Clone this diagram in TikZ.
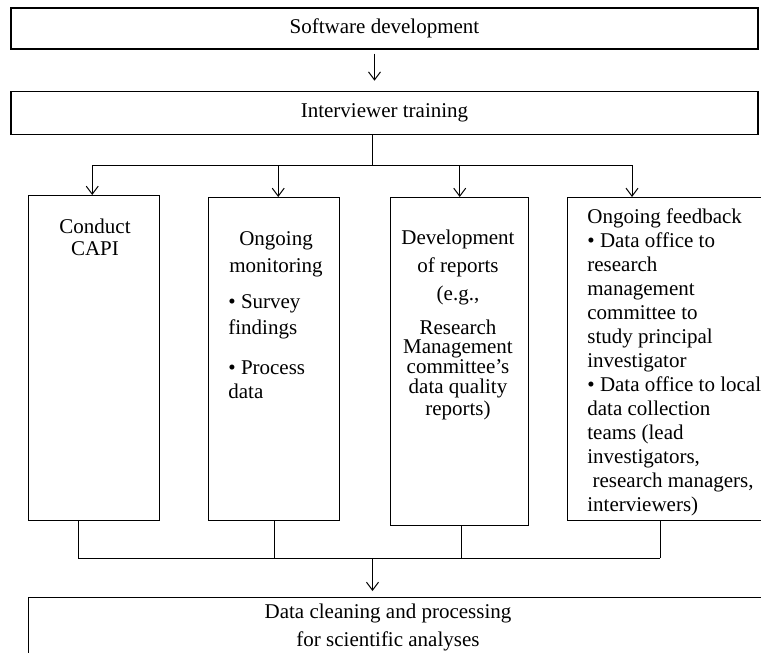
\documentclass[tikz,border=0pt]{standalone}
\usepackage{fontspec}
\setmainfont{Liberation Serif}
\usetikzlibrary{positioning}
\usetikzlibrary{arrows.meta}

\begin{document}
\begin{tikzpicture}[x=0.5pt, y=-0.5pt,
                        every node/.style={font=\fontsize{10.5}{10.5}\selectfont},
                        box/.style={draw, line width=0.7pt, inner sep=0pt},
                        txt/.style={inner sep=0pt, align=center},
                        lft/.style={inner sep=0pt, align=left},
                        link/.style={line width=0.5pt},
                        arr/.style={line width=0.5pt, -{Straight Barb[length=4pt,width=6pt]}}]
            \useasboundingbox (0,0) rectangle (761,653);

            \node[box, minimum width=373.5pt, minimum height=20.5pt] (sw) at (384.5,28.5) {Software development};
            \node[box, minimum width=373.5pt, minimum height=21.5pt, below=20.5pt of sw] (train) {Interviewer training};

            % colunas
            \node[box, anchor=north west, minimum width=65.5pt, minimum height=162.5pt] (capi) at (28,195) {};
            \node[box, anchor=north west, minimum width=65.5pt, minimum height=161.5pt] (mon) at (208,197) {};
            \node[box, anchor=north west, minimum width=69pt, minimum height=164pt] (rep) at (390,197) {};
            \node[box, anchor=north west, minimum width=111.5pt, minimum height=161.5pt] (fb) at (567,197) {};
            \node[box, anchor=north west, minimum width=380pt, minimum height=45pt] (clean) at (28,597) {};

            \node[txt, anchor=north] (capit) at (95,219) {Conduct\\[0.5pt]CAPI};
            \node[txt, anchor=north] (mont) at (276,231) {Ongoing\\[3pt]monitoring};
            \node[lft, anchor=north west] (monb) at (228,294)
                {\textbullet\ Survey\\[2.5pt]findings\\[9.5pt]\textbullet\ Process\\[1.5pt]data};
            \node[txt, anchor=north] (rept) at (458,230)
                {Development\\[3.5pt]of reports\\[3.5pt](e.g.,\\[6.5pt]Research\\[-1pt]Management\\[-0.5pt]
                 committee's\\[-0.5pt]data quality\\[0.5pt]reports)};
            \node[lft, anchor=north west] (fbt) at (587,208)
                {Ongoing feedback\\[1.5pt]\textbullet\ Data office to\\[1.5pt]research\\[1.5pt]management\\[1.5pt]
                 committee to\\[1.5pt]study principal\\[1.5pt]investigator\\[1.5pt]\textbullet\ Data office to local\\[1.5pt]
                 data collection\\[1.5pt]teams (lead\\[1.5pt]investigators,\\[1.5pt]\ research managers,\\[1.5pt]interviewers)};
            \node[txt, anchor=north] (cleant) at (388,604) {Data cleaning and processing\\[3.5pt]for scientific analyses};

            \coordinate (split) at ([xshift=-6pt, yshift=-15pt]train.south);
            \coordinate (fbin) at ([xshift=32.5pt]fb.north west);
            \coordinate (join) at ([yshift=-18.5pt]capi.south);

            \draw[arr, shorten <=2pt, shorten >=5pt] ([xshift=-5pt]sw.south) -- ([xshift=-5pt]train.north);
            \draw[link] ([xshift=-6pt]train.south) -- (split);
            \draw[link] ([xshift=-1pt]capi.north |- split) -- (fbin |- split);
            \draw[arr] ([xshift=-1pt]capi.north |- split) -- ([xshift=-1pt]capi.north);
            \draw[arr] ([xshift=2pt]mon.north |- split) -- ([xshift=2pt]mon.north);
            \draw[arr] (rep.north |- split) -- (rep.north);
            \draw[arr] (fbin |- split) -- (fbin);

            \draw[link] ([xshift=-8pt]capi.south) -- ([xshift=-8pt]capi.south |- join);
            \draw[link] (mon.south) -- (mon.south |- join);
            \draw[link] ([xshift=1pt]rep.south) -- ([xshift=1pt]rep.south |- join);
            \draw[link] ([xshift=46.5pt]fb.south west) -- ([xshift=46.5pt]fb.south west |- join);
            \draw[link] ([xshift=-8pt]capi.south |- join) -- ([xshift=46.5pt]fb.south west |- join);
            \draw[arr, shorten >=3pt] (split |- join) -- (split |- clean.north);
        \end{tikzpicture}
\end{document}
